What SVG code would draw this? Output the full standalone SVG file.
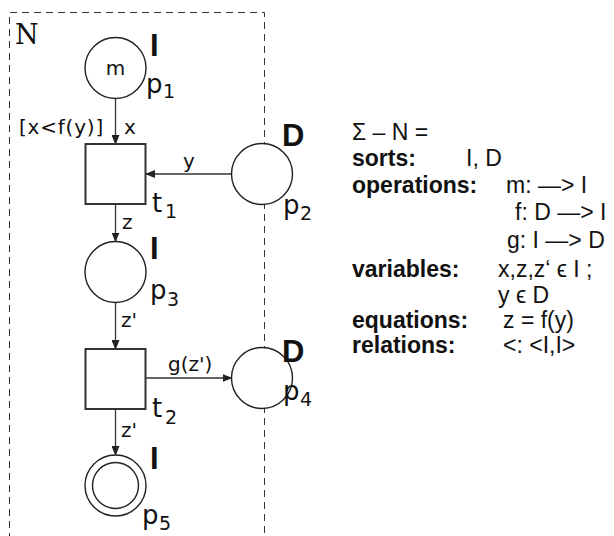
<svg xmlns="http://www.w3.org/2000/svg" width="614" height="536" viewBox="0 0 614 536">
<defs>
<marker id="ah" markerWidth="10" markerHeight="8" refX="9" refY="4" orient="auto" markerUnits="userSpaceOnUse">
<path d="M0,0 L10,4 L0,8 z" fill="#222"/>
</marker>
<style>
.pl{fill:#fff;stroke:#222;stroke-width:1.4}
.tr{fill:#fff;stroke:#333;stroke-width:2}
.arc{stroke:#333;stroke-width:1.3;fill:none;marker-end:url(#ah)}
.lb{font-family:"DejaVu Sans",sans-serif;font-size:20px;fill:#111}
.nm{font-family:"DejaVu Sans",sans-serif;font-size:26px;fill:#111}
.sb{font-family:"DejaVu Sans",sans-serif;font-size:19px;fill:#111}
.st{font-family:"Liberation Sans",Arial,sans-serif;font-size:31px;font-weight:bold;fill:#111}
.tx{font-family:"Liberation Sans",Arial,sans-serif;font-size:23px;fill:#111}
.bd{font-weight:bold}
</style>
</defs>
<rect width="614" height="536" fill="#fff"/>
<path d="M9.5,540 V12.5 H264.5 V540" fill="none" stroke="#333" stroke-width="1" stroke-dasharray="7,5"/>
<text x="15" y="44" font-family="DejaVu Serif,serif" font-size="27" fill="#111">N</text>
<g id="connectors">
<line class="arc" x1="115.5" y1="98.5" x2="115.5" y2="144"/>
<line class="arc" x1="231.5" y1="174" x2="146" y2="174"/>
<line class="arc" x1="115.5" y1="204" x2="115.5" y2="241.5"/>
<line class="arc" x1="115.5" y1="302.5" x2="115.5" y2="349"/>
<line class="arc" x1="146" y1="378" x2="231.5" y2="378"/>
<line class="arc" x1="115.5" y1="409" x2="115.5" y2="455"/>
<text class="lb" x="104" y="134" text-anchor="end" letter-spacing="0.8">[x&lt;f(y)]</text>
<text class="lb" x="124" y="134">x</text>
<text class="lb" x="183" y="168">y</text>
<text class="lb" x="122" y="229">z</text>
<text class="lb" x="121" y="327">z'</text>
<text class="lb" x="168" y="371">g(z')</text>
<text class="lb" x="121" y="437">z'</text>
</g>
<g id="p1">
<circle class="pl" cx="115.5" cy="68" r="30.5"/>
<text class="lb" x="115.5" y="75" text-anchor="middle">m</text>
<text class="st" x="150" y="56">I</text>
<text class="nm" x="146" y="93">p</text><text class="sb" x="163" y="98">1</text>
</g>
<g id="t1">
<rect class="tr" x="85.5" y="144" width="60" height="60"/>
<text class="nm" x="152" y="212">t</text><text class="sb" x="165" y="218">1</text>
</g>
<g id="p2">
<circle class="pl" cx="262" cy="174" r="30.5"/>
<text class="st" x="282" y="146">D</text>
<text class="nm" x="283" y="214">p</text><text class="sb" x="300" y="220">2</text>
</g>
<g id="p3">
<circle class="pl" cx="115.5" cy="272" r="30.5"/>
<text class="st" x="150" y="259">I</text>
<text class="nm" x="150" y="299">p</text><text class="sb" x="167" y="306">3</text>
</g>
<g id="t2">
<rect class="tr" x="85.5" y="349" width="60" height="60"/>
<text class="nm" x="152" y="417">t</text><text class="sb" x="165" y="424">2</text>
</g>
<g id="p4">
<circle class="pl" cx="262" cy="378" r="30.5"/>
<text class="st" x="282" y="362">D</text>
<text class="nm" x="283" y="400">p</text><text class="sb" x="300" y="406">4</text>
</g>
<g id="p5">
<circle class="pl" cx="115.5" cy="485.5" r="30.5"/>
<circle class="pl" cx="115.5" cy="485.5" r="23"/>
<text class="st" x="150" y="469">I</text>
<text class="nm" x="142" y="524">p</text><text class="sb" x="159" y="530">5</text>
</g>
<g id="signature">
<text class="tx" x="352" y="140">Σ – N =</text>
<text class="tx bd" x="352" y="166">sorts:</text>
<text class="tx" x="466" y="166">I, D</text>
<text class="tx bd" x="352" y="193">operations:</text>
<text class="tx" x="506" y="193">m: —&gt; I</text>
<text class="tx" x="515" y="220">f: D —&gt; I</text>
<text class="tx" x="507" y="248">g: I —&gt; D</text>
<text class="tx bd" x="352" y="277">variables:</text>
<text class="tx" x="498" y="277">x,z,z‘ ϵ I ;</text>
<text class="tx" x="498" y="303">y ϵ D</text>
<text class="tx bd" x="352" y="328">equations:</text>
<text class="tx" x="503" y="328">z = f(y)</text>
<text class="tx bd" x="352" y="353">relations:</text>
<text class="tx" x="503" y="353">&lt;: &lt;I,I&gt;</text>
</g>
</svg>
